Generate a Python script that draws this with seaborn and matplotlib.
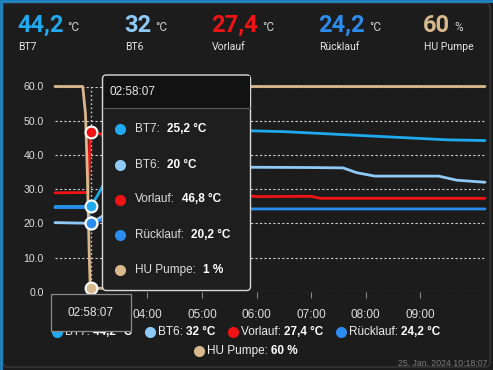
import seaborn as sns
import pandas as pd
import numpy as np
import matplotlib.pyplot as plt
from matplotlib.patches import FancyBboxPatch, Rectangle

# series (time "HH:MM:SS", value)
bt7_t = ["02:18:30", "02:54:00", "02:58:07", "03:05:00", "03:15:00", "03:30:00", "04:00:00", "04:30:00",
         "05:00:00", "05:45:00", "06:30:00", "07:30:00", "08:30:00", "09:30:00", "10:11:00"]
bt7_v = [24.9, 24.9, 25.2, 28.0, 33.0, 38.0, 43.0, 46.0, 47.0, 47.1, 46.8, 46.0, 45.2, 44.4, 44.2]

bt6_t = ["02:18:30", "02:58:07", "03:10:00", "03:30:00", "04:00:00", "04:30:00", "05:00:00", "05:45:00",
         "07:00:00", "07:35:00", "07:50:00", "08:10:00", "09:20:00", "09:40:00", "10:11:00"]
bt6_v = [20.2, 20.0, 22.0, 27.0, 31.0, 34.0, 35.5, 36.4, 36.3, 36.2, 34.8, 33.8, 33.8, 32.6, 32.0]

vl_t = ["02:18:30", "02:55:00", "02:57:00", "02:58:07", "03:10:00", "03:30:00", "04:00:00", "05:00:00",
        "05:45:00", "06:00:00", "07:00:00", "07:10:00", "10:11:00"]
vl_v = [28.9, 29.0, 45.5, 46.8, 46.0, 35.0, 30.0, 28.5, 28.3, 27.8, 27.9, 27.3, 27.3]

rl_t = ["02:18:30", "02:54:00", "02:58:07", "03:10:00", "03:30:00", "04:00:00", "05:45:00", "10:11:00"]
rl_v = [24.6, 24.6, 20.2, 21.0, 23.0, 24.0, 24.2, 24.2]

hu_t = ["02:18:30", "02:49:00", "02:52:00", "02:54:00", "02:56:00", "02:57:00", "02:58:07", "04:45:00",
        "04:50:00", "10:11:00"]
hu_v = [60, 60, 52, 35, 12, 3, 1, 1, 60, 60]

names = ["BT7", "BT6", "Vorlauf", "Rücklauf", "HU Pumpe"]
colors = ["#1fa9f0", "#8fcaf7", "#f01313", "#2b8cf0", "#d8b88c"]
units = ["°C", "°C", "°C", "°C", "%"]
current = ["44,2", "32", "27,4", "24,2", "60"]
hover_time = "02:58:07"
hover_vals = ["25,2", "20", "46,8", "20,2", "1"]
hover_y = [25.2, 20.0, 46.8, 20.2, 1.0]
hour_ticks = ["04:00", "05:00", "06:00", "07:00", "08:00", "09:00"]
y_ticks = [0, 10, 20, 30, 40, 50, 60]


def hrs(s):
    return pd.to_timedelta(s if s.count(":") == 2 else s + ":00").total_seconds() / 3600


rows = []
for n, ts, vs in zip(names, [bt7_t, bt6_t, vl_t, rl_t, hu_t], [bt7_v, bt6_v, vl_v, rl_v, hu_v]):
    for t, v in zip(ts, vs):
        rows.append({"h": hrs(t), "value": v, "series": n})
df = pd.DataFrame(rows)

W, H = 493, 370
bg = "#1c1c1c"
fig = plt.figure(figsize=(W / 100, H / 100), dpi=100, facecolor=bg)
sans = ["Liberation Sans", "DejaVu Sans"]
rob = ["Roboto", "DejaVu Sans"]

# main chart, placed in pixel terms
x0, x1, ytop, ybot = 55, 485, 86.5, 291.7
ax = fig.add_axes([x0 / W, 1 - ybot / H, (x1 - x0) / W, (ybot - ytop) / H])
ax.set_facecolor("none")
sns.lineplot(data=df, x="h", y="value", hue="series", hue_order=names,
             palette=dict(zip(names, colors)), linewidth=2.0, estimator=None,
             legend=False, ax=ax)
for ln in ax.lines:
    ln.set_clip_on(False)
    ln.set_solid_capstyle("round")
    ln.set_solid_joinstyle("round")
ax.set_xlim(hrs("02:18:30"), hrs("10:11:00"))
ax.set_ylim(0, 60)
ax.set_yticks(y_ticks)
ax.set_yticklabels([f"{v:.1f}" for v in y_ticks])
ax.set_xticks([hrs(t) for t in hour_ticks])
ax.set_xticklabels(hour_ticks)
for v in y_ticks:
    ax.axhline(v, color="#cfcfcf", lw=0.8, ls=(0, (2, 2)), zorder=0)
for s in ax.spines.values():
    s.set_visible(False)
ax.tick_params(axis="y", length=0, pad=8, labelcolor="#dddddd", labelsize=7.6)
ax.tick_params(axis="x", length=4, width=0.8, color="#888888", pad=8.5,
               labelcolor="#dddddd", labelsize=8.5)
for lab in ax.get_xticklabels() + ax.get_yticklabels():
    lab.set_family(sans)
ax.set_xlabel("")
ax.set_ylabel("")
hx = hrs(hover_time)
ax.axvline(hx, color="#cfcfcf", lw=1.0, ls=(0, (1.2, 1.8)), zorder=1)
for c, yv in zip(colors, hover_y):
    ax.plot([hx], [yv], "o", ms=8.5, mfc=c, mec="white", mew=1.5, clip_on=False, zorder=5)

# overlay in pixel coordinates
ov = fig.add_axes([0, 0, 1, 1], zorder=5)
ov.set_xlim(0, W)
ov.set_ylim(H, 0)
ov.axis("off")
ov.set_facecolor("none")

ov.add_patch(FancyBboxPatch((3, 3), W - 6, H - 6, boxstyle="round,pad=0,rounding_size=5",
                            fc="none", ec="#3a3a3a", lw=1))
ov.plot([0, W], [0.8, 0.8], color="#1e88c8", lw=2, solid_capstyle="butt")
ov.plot([0.8, 0.8], [0, H], color="#1e88c8", lw=2, solid_capstyle="butt")

# header
head_x = [17, 124, 211, 318, 423]
for x, c, val, u, n in zip(head_x, colors, current, units, names):
    t = ov.text(x, 32, val, color=c, fontsize=17, fontweight="bold", family=rob, va="baseline")
    ov.annotate(u, xy=(1, 0), xycoords=t, xytext=(3, 2.2), textcoords="offset points",
                color="#d0d0d0", fontsize=8.5, family=rob, va="bottom", ha="left")
    ov.text(x + 1, 50.5, n, color="#e6e6e6", fontsize=7.5, family=rob, va="baseline")

# legend
leg = [(57, 332), (150, 332), (233, 332), (341, 332), (199, 351)]
for (x, y), c, n, val, u in zip(leg, colors, names, current, units):
    ov.plot([x], [y], "o", ms=8, color=c, mew=0)
    t = ov.text(x + 8, y, n + ": ", color="#eeeeee", fontsize=8.5, family=sans, va="center")
    ov.annotate(f"{val} {u}", xy=(1, 0), xycoords=t, color="#ffffff", fontsize=8.5,
                fontweight="bold", family=sans, va="bottom", ha="left")

ov.text(488, 364, "25. Jan. 2024 10:18:07", color="#7a7a7a", fontsize=6.3, family=sans,
        ha="right", va="center")

# tooltip
tl, tr, tt, tb = 102.5, 250.5, 75, 290.5
ov.add_patch(FancyBboxPatch((tl, tt), tr - tl, tb - tt, boxstyle="round,pad=0,rounding_size=4",
                            fc="#1e1e1e", ec="#d8d8d8", lw=1, zorder=10))
ov.add_patch(Rectangle((tl + 1, tt + 1), tr - tl - 2, 107.5 - tt - 1, fc="#121212", ec="none", zorder=11))
ov.plot([tl + 1, tr - 1], [107.5, 107.5], color="#5a5a5a", lw=0.8, zorder=11)
ov.text(109.5, 92, hover_time, color="#e8e8e8", fontsize=8.5, family=sans, va="center", zorder=12)
tip_y = [128.5, 165, 199.5, 235, 270]
for y, c, n, val, u in zip(tip_y, colors, names, hover_vals, units):
    ov.plot([119.5], [y], "o", ms=8, color=c, mew=0, zorder=12)
    t = ov.text(135, y, n + ":", color="#dddddd", fontsize=8.5, family=sans, va="center", zorder=12)
    ov.annotate(f"{val} {u}", xy=(1, 0), xycoords=t, xytext=(5, 0), textcoords="offset points",
                color="#ffffff", fontsize=8.5, fontweight="bold", family=sans,
                va="bottom", ha="left", zorder=12)

# x crosshair label
ov.add_patch(Rectangle((50.5, 293.5), 80, 37, fc="#1c1c1c", ec="#8a8a8a", lw=0.9, zorder=10))
ov.text(90.5, 313, hover_time, color="#e8e8e8", fontsize=8.5, family=sans,
        ha="center", va="center", zorder=12)

fig.savefig("out.png", dpi=100, facecolor=bg)
